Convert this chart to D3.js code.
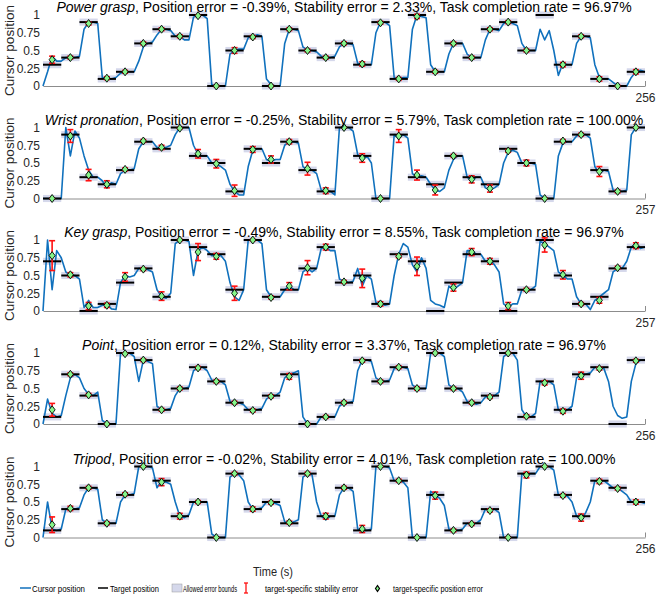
<!DOCTYPE html>
<html><head><meta charset="utf-8">
<script src="https://cdn.jsdelivr.net/npm/d3@7/dist/d3.min.js"></script>
<style>body{margin:0;background:#fff}svg{display:block}text{font-family:"Liberation Sans",Arial,sans-serif}</style>
</head><body><div id="chart"></div>
<script>
// ---------- DATA ----------
const names = ["Power grasp","Wrist pronation","Key grasp","Point","Tripod"];
const posErr = ["-0.39","-0.25","-0.49","0.12","-0.02"];
const stabErr = ["2.33","5.79","8.55","3.37","4.01"];
const completion = ["96.97","100.00","96.97","96.97","100.00"];
const endTimes = [256,257,257,256,256];
const yTicks = [0,0.25,0.5,0.75,1];
const yTickLabels = ["0","0.25","0.5","0.75","1"];

const targets1 = [0.3,0.4,0.9,0.1,0.2,0.6,0.8,0.7,1.0,0.0,0.5,0.7,0.0,0.8,0.5,0.4,0.6,0.3,0.9,0.1,1.0,0.2,0.6,0.4,0.8,0.9,0.5,1.0,0.3,0.7,0.1,0.0,0.2];
const markers1 = [0.37,0.4,0.88,0.11,0.2,0.6,0.8,0.7,0.99,0.0,0.5,0.69,0.0,0.8,0.5,0.4,0.6,0.31,0.89,0.1,0.98,0.2,0.6,0.4,0.8,0.9,0.5,null,0.3,0.7,0.1,0.0,0.2];
const stab1 = [0.05,0.02,0.02,0.02,0.02,0.02,0.02,0.02,0.01,0.01,0.04,0.02,0.01,0.02,0.02,0.02,0.02,0.03,0.02,0.02,0.03,0.02,0.02,0.02,0.02,0.02,0.02,null,0.03,0.02,0.03,0.01,0.03];
const cursor1 = [
 0,0.2,0.42,0.35, 0.35,0.4,0.4,0.4, 0.42,0.8,0.9,0.9, 0.88,0.12,0.1,0.1, 0.12,0.18,0.2,0.2,
 0.2,0.35,0.55,0.6, 0.62,0.72,0.8,0.8, 0.78,0.7,0.7,0.65, 0.65,0.97,1.0,1.0, 0.95,0.02,0,0,
 0,0.45,0.5,0.52, 0.52,0.68,0.7,0.72, 0.7,0.1,0.02,0, 0,0.6,0.8,0.8, 0.78,0.55,0.5,0.5,
 0.48,0.42,0.4,0.4, 0.42,0.55,0.6,0.6, 0.58,0.32,0.3,0.3, 0.3,0.75,0.9,0.9, 0.85,0.12,0.1,0.12,
 0.12,0.8,1.0,0.98, 0.96,0.3,0.2,0.2, 0.2,0.45,0.6,0.6, 0.6,0.45,0.4,0.4, 0.4,0.65,0.8,0.8,
 0.78,0.88,0.9,0.88, 0.85,0.6,0.5,0.5, 0.5,0.8,0.65,0.78, 0.5,0.15,0.32,0.3, 0.3,0.6,0.7,0.7,
 0.68,0.3,0.12,0.1, 0.1,0.05,0,0, 0,0.12,0.2,0.22, 0.2];

const targets2 = [0.0,0.9,0.3,0.2,0.4,0.8,0.7,1.0,0.6,0.5,0.1,0.7,0.5,0.8,0.4,0.1,1.0,0.6,0.0,0.9,0.3,0.2,0.6,0.3,0.2,0.7,0.5,0.0,0.8,0.9,0.4,0.1,1.0];
const markers2 = [0.0,0.88,0.33,0.2,0.41,0.81,0.72,0.99,0.63,0.49,0.11,0.69,0.55,0.8,0.42,0.11,1.0,0.57,0.0,0.88,0.33,0.12,0.6,0.27,0.14,0.67,0.5,0.0,0.81,0.9,0.38,0.1,1.0];
const stab2 = [0.01,0.09,0.08,0.05,0.02,0.02,0.03,0.01,0.06,0.06,0.08,0.04,0.05,0.03,0.09,0.04,0.01,0.06,0.01,0.09,0.07,0.07,0.02,0.05,0.05,0.02,0.04,0.01,0.02,0.02,0.07,0.02,0.01];
const cursor2 = [
 0,0,0,0, 0,1.0,0.6,0.95, 0.85,0.6,0.4,0.3, 0.3,0.25,0.15,0.22, 0.2,0.35,0.4,0.4,
 0.42,0.7,0.8,0.8, 0.8,0.72,0.7,0.72, 0.75,0.9,1.0,1.0, 1.0,0.75,0.62,0.6, 0.6,0.5,0.48,0.45,
 0.4,0.2,0.1,0.05, 0.05,0.45,0.68,0.7, 0.7,0.55,0.52,0.55, 0.55,0.75,0.8,0.8, 0.78,0.45,0.4,0.4,
 0.35,0.12,0.1,0.1, 0.05,1.0,1.0,1.0, 0.95,0.62,0.55,0.6, 0.5,0,0,0, 0,0.9,0.85,0.9,
 0.85,0.35,0.3,0.32, 0.3,0.2,0.12,0.1, 0.15,0.4,0.55,0.6, 0.6,0.3,0.25,0.3, 0.3,0.15,0.12,0.15,
 0.2,0.5,0.65,0.68, 0.65,0.5,0.5,0.5, 0.48,0.05,0,0, 0,0.6,0.78,0.8, 0.8,0.88,0.9,0.9,
 0.85,0.45,0.35,0.4, 0.38,0.12,0.1,0.1, 0.12,0.9,1.0,1.0, 1.0];

const targets3 = [0.7,0.5,0.0,0.1,0.4,0.6,0.2,1.0,0.9,0.8,0.3,1.0,0.2,0.3,0.6,0.9,0.4,0.5,0.1,0.8,0.7,0.0,0.4,0.8,0.7,0.0,0.3,1.0,0.5,0.1,0.2,0.6,0.9];
const markers3 = [0.78,0.51,0.07,0.08,0.48,0.59,0.21,1.0,0.83,0.77,0.25,1.0,0.19,0.35,0.61,0.9,0.41,0.46,0.1,0.77,0.63,null,0.33,0.83,0.7,0.07,0.3,0.93,0.51,0.1,0.15,0.61,0.92];
const stab3 = [0.21,0.03,0.05,0.03,0.06,0.02,0.06,0.01,0.12,0.04,0.1,0.01,0.02,0.05,0.1,0.04,0.02,0.13,0.03,0.02,0.13,null,0.05,0.05,0.04,0.05,0.02,0.1,0.06,0.02,0.04,0.02,0.04];
const cursor3 = [
 0,1.0,0.3,0.85, 0.75,0.55,0.5,0.5, 0.45,0.05,0.15,0.05, 0.05,0.08,0.1,0.03, 0.02,0.4,0.5,0.48,
 0.5,0.6,0.6,0.58, 0.55,0.3,0.2,0.18, 0.25,0.95,1.0,1.0, 0.98,0.5,0.85,0.9, 0.85,0.78,0.8,0.78,
 0.7,0.4,0.2,0.15, 0.3,1.0,1.0,1.0, 0.95,0.3,0.2,0.2, 0.2,0.3,0.35,0.3, 0.3,0.55,0.6,0.55,
 0.6,0.88,0.9,0.85, 0.85,0.45,0.42,0.4, 0.42,0.6,0.35,0.5, 0.45,0.12,0.1,0.08, 0.1,0.5,0.8,0.95,
 0.9,0.65,0.55,0.75, 0.6,0.15,0.1,0.08, 0.05,0.35,0.3,0.35, 0.4,0.85,0.85,0.8, 0.8,0.7,0.72,0.65,
 0.55,0.1,0.05,0.1, 0.1,0.3,0.3,0.3, 0.35,0.98,0.95,0.9, 0.85,0.55,0.5,0.45, 0.45,0.2,0.1,0.1,
 0.02,0.15,0.2,0.25, 0.3,0.55,0.6,0.6, 0.7,0.9,0.95,0.88, 0.9];

const targets4 = [0.1,0.7,0.4,0.0,1.0,0.9,0.2,0.5,0.8,0.6,0.3,0.2,0.4,0.7,0.0,0.1,0.3,0.9,0.6,0.8,0.5,1.0,0.5,0.3,0.4,1.0,0.1,0.6,0.2,0.7,0.8,0.0,0.9];
const markers4 = [0.2,0.7,0.41,0.0,0.99,0.9,0.2,0.5,0.79,0.6,0.3,0.19,0.39,0.67,0.0,0.1,0.3,0.89,0.6,0.8,0.5,1.0,0.5,0.3,0.38,1.0,0.11,0.58,0.18,0.68,0.78,null,0.89];
const stab4 = [0.09,0.02,0.02,0.01,0.01,0.02,0.02,0.02,0.02,0.02,0.02,0.02,0.02,0.04,0.01,0.02,0.02,0.02,0.02,0.02,0.02,0.01,0.02,0.02,0.02,0.01,0.02,0.03,0.03,0.05,0.02,null,0.02];
const cursor4 = [
 0,0.35,0.15,0.1, 0.12,0.4,0.65,0.7, 0.65,0.5,0.42,0.4, 0.45,0.05,0,0, 0,1.0,1.0,1.0,
 0.95,0.6,0.9,0.88, 0.85,0.25,0.2,0.2, 0.22,0.4,0.5,0.5, 0.52,0.75,0.8,0.8, 0.75,0.62,0.6,0.6,
 0.55,0.32,0.3,0.3, 0.27,0.2,0.2,0.2, 0.22,0.35,0.4,0.4, 0.45,0.65,0.7,0.72, 0.75,0.1,0,0,
 0,0.1,0.1,0.1, 0.1,0.25,0.3,0.3, 0.32,0.75,0.9,0.9, 0.88,0.65,0.6,0.6, 0.62,0.78,0.8,0.8,
 0.78,0.55,0.5,0.5, 0.5,1.0,1.0,1.0, 0.95,0.55,0.5,0.5, 0.45,0.32,0.3,0.28, 0.3,0.38,0.4,0.4,
 0.45,0.95,1.0,1.0, 0.9,0.2,0.1,0.1, 0.15,0.6,0.6,0.6, 0.55,0.2,0.18,0.2, 0.25,0.65,0.7,0.7,
 0.72,0.8,0.8,0.78, 0.6,0.25,0.12,0.08, 0.1,0.6,0.85,0.9, 0.9];

const targets5 = [0.1,0.4,0.7,0.2,0.6,1.0,0.8,0.3,0.5,0.0,0.9,0.4,0.5,0.2,0.9,0.3,0.7,0.1,1.0,0.8,0.0,0.6,0.1,0.2,0.4,0.0,0.9,1.0,0.6,0.3,0.8,0.7,0.5];
const markers5 = [0.18,0.41,0.7,0.2,0.61,1.0,0.78,0.3,0.5,0.0,0.9,0.4,0.49,0.21,0.9,0.3,0.7,0.12,1.0,0.8,0.0,0.59,0.1,0.19,0.38,0.0,0.88,1.0,0.59,0.28,0.79,0.69,0.5];
const stab5 = [0.11,0.03,0.02,0.02,0.02,0.01,0.05,0.04,0.02,0.01,0.02,0.03,0.02,0.02,0.02,0.04,0.02,0.05,0.01,0.02,0.01,0.05,0.02,0.02,0.02,0.01,0.04,0.01,0.02,0.05,0.03,0.02,0.03];
const cursor5 = [
 0,0.5,0.12,0.1, 0.12,0.4,0.42,0.4, 0.42,0.6,0.7,0.7, 0.68,0.25,0.2,0.2, 0.2,0.5,0.6,0.6,
 0.62,1.0,1.0,1.0, 0.98,0.7,0.8,0.78, 0.75,0.5,0.3,0.28, 0.32,0.5,0.5,0.5, 0.5,0.05,0,0,
 0,0.85,0.9,0.88, 0.8,0.5,0.4,0.4, 0.42,0.5,0.5,0.48, 0.45,0.22,0.2,0.22, 0.25,0.85,0.9,0.88,
 0.5,0.3,0.25,0.3, 0.3,0.6,0.7,0.7, 0.65,0.12,0.1,0.1, 0.12,1.0,1.0,1.0, 0.98,0.8,0.8,0.78,
 0.7,0,0,0, 0,0.65,0.6,0.55, 0.45,0.12,0.1,0.1, 0.12,0.2,0.2,0.2, 0.25,0.4,0.4,0.4,
 0.35,0,0,0, 0,0.9,0.88,0.9, 0.9,1.0,1.0,1.0, 0.95,0.6,0.6,0.58, 0.5,0.3,0.25,0.35,
 0.5,0.8,0.8,0.8, 0.75,0.7,0.7,0.65, 0.6,0.5,0.5,0.5, 0.48];

const allTargets = [targets1,targets2,targets3,targets4,targets5];
const allMarkers = [markers1,markers2,markers3,markers4,markers5];
const allStab = [stab1,stab2,stab3,stab4,stab5];
const allCursor = [cursor1,cursor2,cursor3,cursor4,cursor5];
const legendLabels = ["Cursor position","Target position","Allowed error bounds","target-specific stability error","target-specific position error"];

// ---------- DRAW ----------
const W=656,H=594;
const svg=d3.select("#chart").append("svg").attr("width",W).attr("height",H);
const X0=43,X1=645,PH=71;
const zeros=[86,198.5,311,424,537.5];
const BAND=0.05;
const cBlue="#1071bd", cBand="#d5d8eb", cRed="#ff1010", cGreen="#86f58a";
const diamond="M0,-4L3,0L0,4L-3,0Z";

names.forEach((nm,k)=>{
  const end=endTimes[k], tg=allTargets[k], mk=allMarkers[k], st=allStab[k], cu=allCursor[k];
  const n=tg.length, dt=end/n;
  const x=d3.scaleLinear().domain([0,end]).range([X0,X1]);
  const y=d3.scaleLinear().domain([0,1]).range([zeros[k],zeros[k]-PH]);
  const g=svg.append("g");
  const idx=d3.range(n);

  // error bands
  g.append("g").selectAll("rect").data(idx).join("rect")
    .attr("x",i=>x(i*dt)).attr("width",i=>x((i+1)*dt)-x(i*dt))
    .attr("y",i=>y(tg[i]+BAND)).attr("height",i=>y(tg[i]-BAND)-y(tg[i]+BAND))
    .attr("fill",cBand);

  // x axis
  const xa=g.append("g").attr("transform",`translate(0,${zeros[k]})`)
    .call(d3.axisBottom(x).tickValues([end]).tickFormat(d3.format("d")).tickSizeInner(-5).tickSizeOuter(0).tickPadding(7));
  xa.select(".domain").attr("stroke","#8c8c8c");
  xa.selectAll(".tick line").attr("stroke","#8c8c8c");
  xa.selectAll("text").attr("font-size",12).attr("fill","#262626").attr("font-family","Liberation Sans, Arial, sans-serif");

  // y axis
  const ya=g.append("g").attr("transform",`translate(${X0},0)`)
    .call(d3.axisLeft(y).tickValues(yTicks).tickFormat((d,i)=>yTickLabels[i]).tickSize(0).tickPadding(3));
  ya.select(".domain").remove();
  ya.selectAll("text").attr("font-size",12).attr("fill","#262626").attr("font-family","Liberation Sans, Arial, sans-serif");

  // cursor trace
  const pts=cu.map((v,j)=>[j*dt/4,v]);
  g.append("path").datum(pts)
    .attr("d",d3.line().x(d=>x(d[0])).y(d=>y(d[1])))
    .attr("fill","none").attr("stroke",cBlue).attr("stroke-width",1.6).attr("stroke-linejoin","round");

  // target lines
  g.append("g").selectAll("line").data(idx).join("line")
    .attr("x1",i=>x(i*dt)).attr("x2",i=>x((i+1)*dt))
    .attr("y1",i=>y(tg[i])).attr("y2",i=>y(tg[i]))
    .attr("stroke","#000").attr("stroke-width",2);

  const done=idx.filter(i=>mk[i]!==null);
  // stability error bars
  const eb=g.append("g").attr("stroke",cRed).attr("stroke-width",1.6);
  done.forEach(i=>{
    const cx=x((i+0.5)*dt), y1=y(mk[i]-st[i]), y2=y(mk[i]+st[i]);
    eb.append("line").attr("x1",cx).attr("x2",cx).attr("y1",y1).attr("y2",y2);
    eb.append("line").attr("x1",cx-3).attr("x2",cx+3).attr("y1",y1).attr("y2",y1);
    eb.append("line").attr("x1",cx-3).attr("x2",cx+3).attr("y1",y2).attr("y2",y2);
  });
  // position markers
  g.append("g").selectAll("path").data(done).join("path")
    .attr("d",diamond).attr("transform",i=>`translate(${x((i+0.5)*dt)},${y(mk[i])})`)
    .attr("fill",cGreen).attr("stroke","#000").attr("stroke-width",0.9);

  // title
  const t=g.append("text").attr("x",(X0+X1)/2).attr("y",zeros[k]-74).attr("text-anchor","middle")
    .attr("font-size",14).attr("fill","#000");
  t.append("tspan").attr("font-style","italic").text(nm);
  t.append("tspan").text(`, Position error = ${posErr[k]}%, Stability error = ${stabErr[k]}%, Task completion rate = ${completion[k]}%`);

  // y label
  g.append("text").attr("transform",`translate(14,${zeros[k]-PH/2}) rotate(-90)`)
    .attr("text-anchor","middle").attr("font-size",13.5).attr("fill","#262626").text("Cursor position");
});

// x label
svg.append("text").attr("x",273).attr("y",576).attr("text-anchor","middle").attr("font-size",13)
  .attr("textLength",40).attr("lengthAdjust","spacingAndGlyphs").attr("fill","#262626").text("Time (s)");

// legend
const lg=svg.append("g");
const ly=588, fs=9.5;
lg.append("line").attr("x1",20).attr("x2",31).attr("y1",ly).attr("y2",ly).attr("stroke",cBlue).attr("stroke-width",1.5);
lg.append("line").attr("x1",98).attr("x2",108).attr("y1",ly).attr("y2",ly).attr("stroke","#000").attr("stroke-width",1.5);
lg.append("rect").attr("x",172).attr("y",584).attr("width",10).attr("height",8).attr("fill",cBand).attr("stroke","#9a9a9a").attr("stroke-width",0.5);
lg.append("line").attr("x1",246).attr("x2",246).attr("y1",583).attr("y2",593).attr("stroke",cRed).attr("stroke-width",1.3);
lg.append("line").attr("x1",244).attr("x2",248).attr("y1",583).attr("y2",583).attr("stroke",cRed).attr("stroke-width",1.3);
lg.append("line").attr("x1",244).attr("x2",248).attr("y1",593).attr("y2",593).attr("stroke",cRed).attr("stroke-width",1.3);
lg.append("path").attr("d","M0,-3L2,0L0,3L-2,0Z").attr("transform","translate(377.5,588.5)").attr("fill",cGreen).attr("stroke","#000").attr("stroke-width",1.2);
const lx=[[32,53],[110,49],[183,54],[265,93],[393,90]];
legendLabels.forEach((s,i)=>{
  lg.append("text").attr("x",lx[i][0]).attr("y",592).attr("font-size",fs)
    .attr("textLength",lx[i][1]).attr("lengthAdjust","spacingAndGlyphs").attr("fill","#000").text(s);
});
</script></body></html>
